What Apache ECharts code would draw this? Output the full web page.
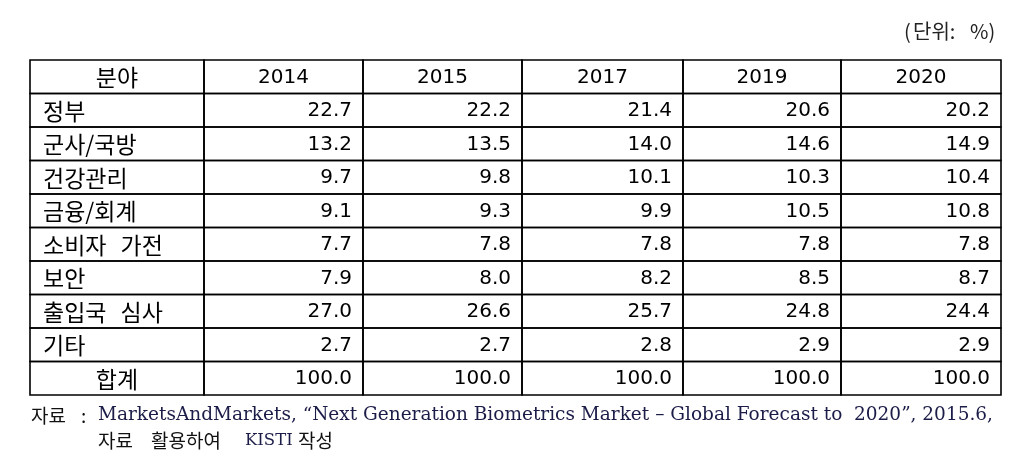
<!DOCTYPE html>
<html><head><meta charset="utf-8">
<script src="https://cdn.jsdelivr.net/npm/echarts@6/dist/echarts.min.js"></script>
<style>html,body{margin:0;padding:0;background:#fff}#c{width:1023px;height:473px}</style>
</head><body><div id="c"></div>
<script>
const headerLabel = '분야';
const years = ['2014', '2015', '2017', '2019', '2020'];
const categories = ['정부', '군사/국방', '건강관리', '금융/회계', '소비자 가전', '보안', '출입국 심사', '기타', '합계'];
const v2014 = [22.7, 13.2, 9.7, 9.1, 7.7, 7.9, 27.0, 2.7, 100.0];
const v2015 = [22.2, 13.5, 9.8, 9.3, 7.8, 8.0, 26.6, 2.7, 100.0];
const v2017 = [21.4, 14.0, 10.1, 9.9, 7.8, 8.2, 25.7, 2.8, 100.0];
const v2019 = [20.6, 14.6, 10.3, 10.5, 7.8, 8.5, 24.8, 2.9, 100.0];
const v2020 = [20.2, 14.9, 10.4, 10.8, 7.8, 8.7, 24.4, 2.9, 100.0];
const unitParts = ['(', '단위:', '%)'];
const sourceParts = ['자료', ':'];
const noteLine1 = 'MarketsAndMarkets, “Next Generation Biometrics Market – Global Forecast to  2020”, 2015.6,';
const noteLine2Parts = ['자료', '활용하여', 'KISTI', '작성'];

// layout
const colWidths = [174, 159, 159, 161, 158, 160];
const edges = [0];
colWidths.forEach(w => edges.push(edges[edges.length - 1] + w));
const series = [v2014, v2015, v2017, v2019, v2020];
const rowNames = [headerLabel].concat(categories);

const cells = [];
cells.push([0, 0, headerLabel, 'center', 'k']);
years.forEach((y, i) => cells.push([i + 1, 0, y, 'center', 'n']));
categories.forEach((c, r) => {
  const isTotal = r === categories.length - 1;
  cells.push([0, r + 1, c, isTotal ? 'center' : 'left', 'k']);
  series.forEach((arr, i) => cells.push([i + 1, r + 1, arr[r].toFixed(1), 'right', 'n']));
});

const KFONT = '"Noto Sans CJK KR", sans-serif';
const NFONT = '"DejaVu Sans", "Noto Sans CJK KR", sans-serif';
const SFONT = '"DejaVu Serif", serif';
const kStyle = { fontFamily: KFONT, fontSize: 19, fontWeight: 'normal', color: '#111' };
const eStyle = { fontFamily: SFONT, fontSize: 18.5, fontWeight: 'normal', color: '#1c1c48' };

const chart = echarts.init(document.getElementById('c'));
chart.setOption({
  animation: false,
  backgroundColor: '#fff',
  title: [
    { text: '{a|' + unitParts[0] + '}{b|' + unitParts[1] + ' }{c|' + unitParts[2] + '}', left: 904, top: 21, padding: 0,
      textStyle: { fontWeight: 'normal', rich: {
        a: { fontFamily: KFONT, fontSize: 20, color: '#222', width: 9 },
        b: { fontFamily: KFONT, fontSize: 20, color: '#222', width: 57 },
        c: { fontFamily: KFONT, fontSize: 20, color: '#222' } } } },
    { text: '{k|' + sourceParts[0] + ' }{c|' + sourceParts[1] + ' }{e|' + noteLine1 + '}', left: 31, top: 406, padding: 0,
      textStyle: { fontWeight: 'normal', rich: {
        k: Object.assign({}, kStyle, { width: 50 }),
        c: Object.assign({}, kStyle, { width: 17 }),
        e: eStyle } } },
    { text: '{k1|' + noteLine2Parts[0] + ' }{k2|' + noteLine2Parts[1] + ' }{e|' + noteLine2Parts[2] + ' }{k3|' + noteLine2Parts[3] + '}',
      left: 98, top: 431, padding: 0,
      textStyle: { fontWeight: 'normal', rich: {
        k1: Object.assign({}, kStyle, { width: 53 }),
        k2: Object.assign({}, kStyle, { width: 94 }),
        e: Object.assign({}, eStyle, { fontSize: 16.5, width: 53 }),
        k3: kStyle } } }
  ],
  grid: { left: 30, right: 22, top: 60, bottom: 78 },
  xAxis: { type: 'value', min: 0, max: edges[edges.length - 1], show: false },
  yAxis: { type: 'category', data: rowNames.map((_, i) => i), inverse: true, show: false },
  series: [{
    type: 'custom',
    data: cells,
    encode: { x: 0, y: 1 },
    renderItem: function (params, api) {
      const col = api.value(0), row = api.value(1);
      const d = cells[params.dataIndex];
      const p0 = api.coord([edges[col], row]);
      const p1 = api.coord([edges[col + 1], row]);
      const h = api.size([0, 1])[1];
      const x0 = p0[0], x1 = p1[0], cy = p0[1];
      let tx, al;
      if (d[3] === 'center') { tx = (x0 + x1) / 2; al = 'center'; }
      else if (d[3] === 'left') { tx = x0 + 13; al = 'left'; }
      else { tx = x1 - 11; al = 'right'; }
      const isK = d[4] === 'k';
      let txt = d[2];
      let rich;
      if (isK) {
        const words = String(d[2]).split(' ');
        txt = words.map(w => '{w|' + w + '}').join('{sp| }');
        rich = {
          w: { fontFamily: KFONT, fontSize: 23, color: '#000' },
          sp: { fontFamily: KFONT, fontSize: 23, width: 14 }
        };
      }
      const ts = { text: txt, x: tx, y: cy + 1, textAlign: al, align: al,
        textVerticalAlign: 'middle', verticalAlign: 'middle',
        fontSize: isK ? 23 : 20, fontFamily: isK ? KFONT : NFONT, fill: '#000' };
      if (rich) ts.rich = rich;
      return {
        type: 'group',
        children: [
          { type: 'rect', shape: { x: x0, y: cy - h / 2, width: x1 - x0, height: h },
            style: { fill: 'none', stroke: '#000', lineWidth: 1.6 } },
          { type: 'text', style: ts }
        ]
      };
    }
  }]
});
</script></body></html>
